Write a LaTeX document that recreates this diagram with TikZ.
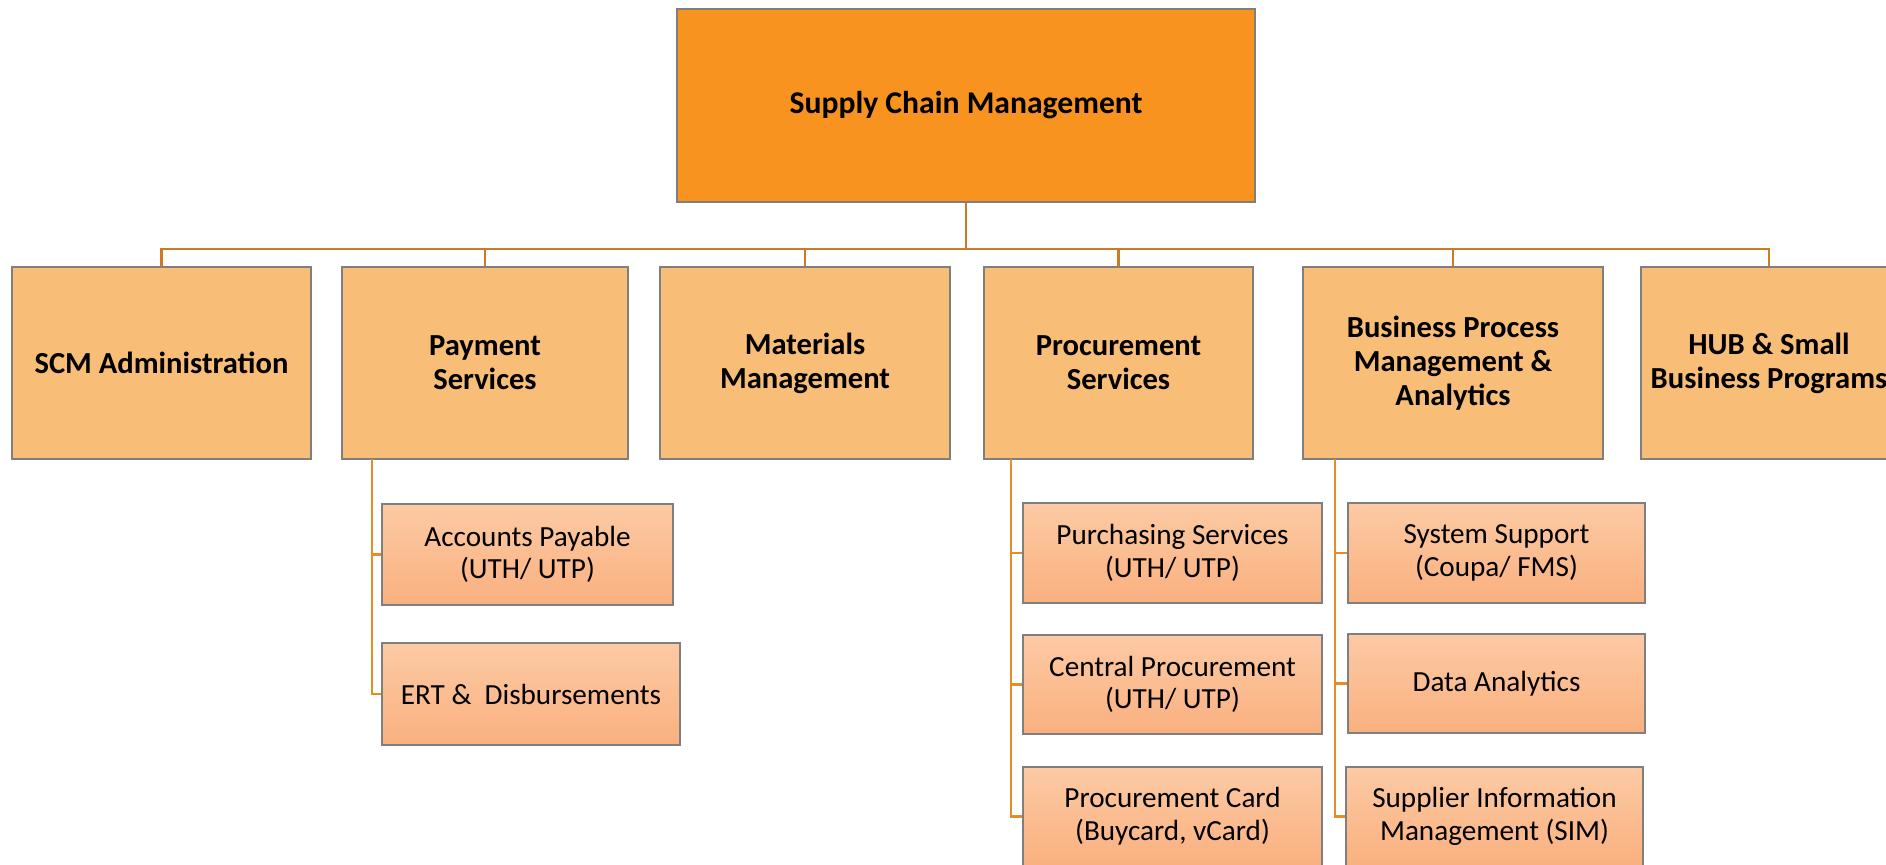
\documentclass[tikz,border=0pt]{standalone}
\usepackage{fontspec}
\setmainfont{Carlito}
\usepackage{xcolor}
\usetikzlibrary{positioning,calc}

\definecolor{scmorange}{HTML}{F7931E}
\definecolor{unitfill}{HTML}{F8BE78}
\definecolor{subtop}{HTML}{FCCAA4}
\definecolor{subbot}{HTML}{FAB07F}
\definecolor{busline}{HTML}{CB7A28}
\definecolor{twigline}{HTML}{E58D26}
\definecolor{boxedge}{HTML}{7F7F7F}

\tikzset{
	head/.style={draw=boxedge,line width=0.5pt,fill=scmorange,minimum width=5.78cm,minimum height=1.93cm,inner sep=0pt,align=center,font=\fontsize{9}{9.7}\selectfont\bfseries},
	unit/.style={draw=boxedge,line width=0.5pt,fill=unitfill,minimum height=1.92cm,inner sep=0pt,align=center,font=\fontsize{8.7}{9.7}\selectfont\bfseries},
	team/.style={draw=boxedge,line width=0.5pt,top color=subtop,bottom color=subbot,minimum height=1cm,inner sep=0pt,align=center,font=\fontsize{8.3}{9.3}\selectfont},
	bus/.style={draw=busline,line width=0.6pt},
	twig/.style={draw=twigline,line width=0.6pt},
	vh/.style={to path={-| (\tikztotarget)}},
	hv/.style={to path={|- (\tikztotarget)}}
}

\begin{document}
\begin{tikzpicture}[x=0.01cm,y=-0.01cm]
	\useasboundingbox (0,0) rectangle (1886,865);
	\clip (0,0) rectangle (1886,865);
	\node[head](SCM) at (966,105.5) {Supply Chain Management};
	\node[unit,minimum width=2.99cm](SA) at (161.5,363) {SCM Administration};
	\node[unit,minimum width=2.86cm](PS) at (485,363) {Payment\\Services};
	\node[unit,minimum width=2.90cm](MM) at (805,363) {Materials\\Management};
	\node[unit,minimum width=2.69cm](PR) at (1118.5,363) {Procurement\\Services};
	\node[unit,minimum width=3.00cm](BPM) at (1453,363) {Business Process\\Management \&\\Analytics};
	\node[unit,minimum width=2.56cm](HUB) at (1769,363) {HUB \& Small\\Business Programs};
	\node[team,minimum width=2.91cm,minimum height=1.01cm](AP) at (527.5,554.5) {Accounts Payable\\(UTH/ UTP)};
	\node[team,minimum width=2.98cm,minimum height=1.02cm](ERT) at (531,694) {ERT \&~ Disbursements};
	\node[team,minimum width=2.99cm,minimum height=1.00cm](PUS) at (1172.5,553) {Purchasing Services\\(UTH/ UTP)};
	\node[team,minimum width=2.99cm,minimum height=0.99cm](CP) at (1172.5,684.5) {Central Procurement\\(UTH/ UTP)};
	\node[team,minimum width=2.99cm,minimum height=0.99cm](PC) at (1172.5,816.5) {Procurement Card\\(Buycard, vCard)};
	\node[team,minimum width=2.97cm,minimum height=1.00cm](SSU) at (1496.5,553) {System Support\\(Coupa/ FMS)};
	\node[team,minimum width=2.97cm,minimum height=0.99cm](DA) at (1496.5,683.5) {Data Analytics};
	\node[team,minimum width=2.97cm,minimum height=0.99cm](SIM) at (1494.5,816.5) {Supplier Information\\Management (SIM)};
	\coordinate (bus) at (966,249);
	\coordinate (PSb) at (372,459);
	\coordinate (PRb) at (1011,459);
	\coordinate (BPMb) at (1335,459);
	\path[bus](SCM) edge (bus);
	\path[bus](bus) edge[vh] (SA.north)
		edge[vh] (PS.north)
		edge[vh] (MM.north)
		edge[vh] (PR.north)
		edge[vh] (BPM.north)
		edge[vh] (HUB.north);
	\path[twig](PSb) edge[hv] (AP.west)
		edge[hv] (ERT.west);
	\path[twig](PRb) edge[hv] (PUS.west)
		edge[hv] (CP.west)
		edge[hv] (PC.west);
	\path[twig](BPMb) edge[hv] (SSU.west)
		edge[hv] (DA.west)
		edge[hv] (SIM.west);
\end{tikzpicture}
\end{document}
